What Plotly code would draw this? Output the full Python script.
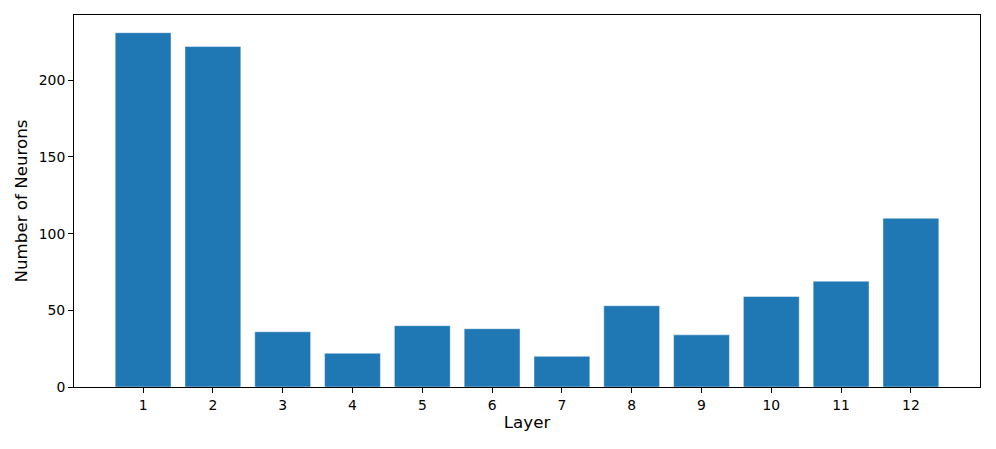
import plotly.graph_objects as go

layers = [1, 2, 3, 4, 5, 6, 7, 8, 9, 10, 11, 12]
neurons = [231, 222, 36, 22, 40, 38, 20, 53, 34, 59, 69, 110]
x_ticks = layers
y_ticks = [0, 50, 100, 150, 200]

fig = go.Figure(go.Bar(
    x=layers, y=neurons, width=0.8,
    marker=dict(color="#1f77b4", line=dict(color="rgba(255,255,255,0.45)", width=1)),
))

font = "DejaVu Sans"
fig.update_layout(
    width=996, height=449,
    margin=dict(l=74, r=16, t=15, b=62),
    plot_bgcolor="white", paper_bgcolor="white",
    font=dict(family=font, color="black", size=13.9),
    showlegend=False,
)
fig.update_xaxes(
    range=[0.01, 12.99], tickvals=x_ticks, ticktext=[str(v) for v in x_ticks],
    showline=True, linecolor="black", linewidth=1, mirror=True,
    ticks="outside", ticklen=5, tickcolor="black", showgrid=False, zeroline=False,
    title=dict(text="Layer", font=dict(size=16.7, family=font), standoff=4),
    tickfont=dict(size=13.9, family=font),
)
fig.update_yaxes(
    range=[0, 242.55], tickvals=y_ticks,
    showline=True, linecolor="black", linewidth=1, mirror=True,
    ticks="outside", ticklen=5, tickcolor="black", showgrid=False, zeroline=False,
    title=dict(text="Number of Neurons", font=dict(size=16.7, family=font), standoff=6),
    tickfont=dict(size=13.9, family=font),
)
fig.write_html("out.html", config={"displayModeBar": False},
               post_script="document.body.style.margin='0';")
